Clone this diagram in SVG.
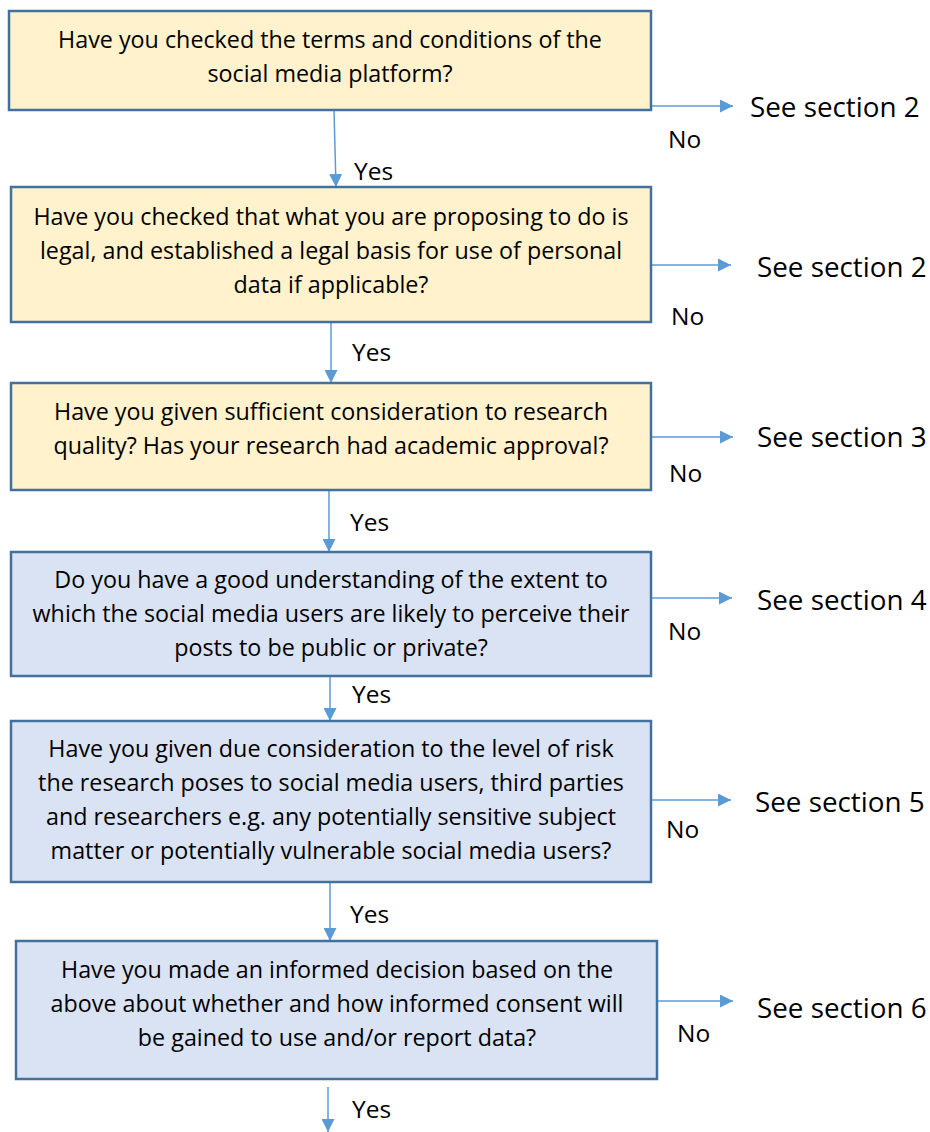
<svg xmlns="http://www.w3.org/2000/svg" width="930" height="1132" viewBox="0 0 930 1132">
<defs>
<style>
.box{stroke:#41719C;stroke-width:2.5}
.y{fill:#FFF2CC}
.b{fill:#DAE3F3}
.t{font-family:"Open Sans",Lato,sans-serif;font-size:23.3px;fill:#000;text-anchor:middle}
.l{font-family:"Open Sans",Lato,sans-serif;font-size:24.5px;fill:#000}
.s{font-family:"Open Sans",Lato,sans-serif;font-size:27.8px;fill:#000}
.c{stroke:#5B9BD5;stroke-width:1.5;fill:none;marker-end:url(#ah)}
</style>
<marker id="ah" viewBox="0 0 10 10" refX="10" refY="5" markerWidth="13" markerHeight="13" markerUnits="userSpaceOnUse" orient="auto"><path d="M0,0 L10,5 L0,10 z" fill="#5B9BD5"/></marker>
</defs>
<g id="connectors">
<path class="c" d="M334,110 L336,187"/>
<path class="c" d="M331,322 L331,383"/>
<path class="c" d="M329,490 L329,552"/>
<path class="c" d="M330,676 L330,721"/>
<path class="c" d="M330,882 L330,941"/>
<path class="c" d="M328,1087 L328,1132"/>
<path class="c" d="M651,106 L733,106"/>
<path class="c" d="M651,265 L731,265"/>
<path class="c" d="M651,437 L733,437"/>
<path class="c" d="M651,598 L732,598"/>
<path class="c" d="M651,800 L731,800"/>
<path class="c" d="M657,1001 L733,1001"/>
<text class="l" x="354" y="180">Yes</text>
<text class="l" x="352" y="361">Yes</text>
<text class="l" x="350" y="531">Yes</text>
<text class="l" x="352" y="703">Yes</text>
<text class="l" x="350" y="923">Yes</text>
<text class="l" x="352" y="1118">Yes</text>
<text class="l" x="668" y="148">No</text>
<text class="l" x="671" y="325">No</text>
<text class="l" x="669" y="482">No</text>
<text class="l" x="668" y="640">No</text>
<text class="l" x="666" y="838">No</text>
<text class="l" x="677" y="1042">No</text>
<text class="s" x="750" y="117">See section 2</text>
<text class="s" x="757" y="277">See section 2</text>
<text class="s" x="757" y="447">See section 3</text>
<text class="s" x="757" y="610">See section 4</text>
<text class="s" x="755" y="812">See section 5</text>
<text class="s" x="757" y="1018">See section 6</text>
</g>
<g id="n1">
<rect class="box y" x="9" y="11" width="642" height="99"/>
<text class="t" x="330" y="48">Have you checked the terms and conditions of the</text>
<text class="t" x="330" y="82">social media platform?</text>
</g>
<g id="n2">
<rect class="box y" x="11" y="187" width="640" height="135"/>
<text class="t" x="331" y="225">Have you checked that what you are proposing to do is</text>
<text class="t" x="331" y="259">legal, and established a legal basis for use of personal</text>
<text class="t" x="331" y="293">data if applicable?</text>
</g>
<g id="n3">
<rect class="box y" x="11" y="383" width="640" height="107"/>
<text class="t" x="331" y="420">Have you given sufficient consideration to research</text>
<text class="t" x="331" y="454">quality? Has your research had academic approval?</text>
</g>
<g id="n4">
<rect class="box b" x="11" y="552" width="640" height="124"/>
<text class="t" x="331" y="588">Do you have a good understanding of the extent to</text>
<text class="t" x="331" y="622">which the social media users are likely to perceive their</text>
<text class="t" x="331" y="656">posts to be public or private?</text>
</g>
<g id="n5">
<rect class="box b" x="11" y="721" width="640" height="161"/>
<text class="t" x="331" y="757">Have you given due consideration to the level of risk</text>
<text class="t" x="331" y="791">the research poses to social media users, third parties</text>
<text class="t" x="331" y="825">and researchers e.g. any potentially sensitive subject</text>
<text class="t" x="331" y="859">matter or potentially vulnerable social media users?</text>
</g>
<g id="n6">
<rect class="box b" x="16" y="941" width="641" height="138"/>
<text class="t" x="337" y="978">Have you made an informed decision based on the</text>
<text class="t" x="337" y="1012">above about whether and how informed consent will</text>
<text class="t" x="337" y="1046">be gained to use and/or report data?</text>
</g>
</svg>
